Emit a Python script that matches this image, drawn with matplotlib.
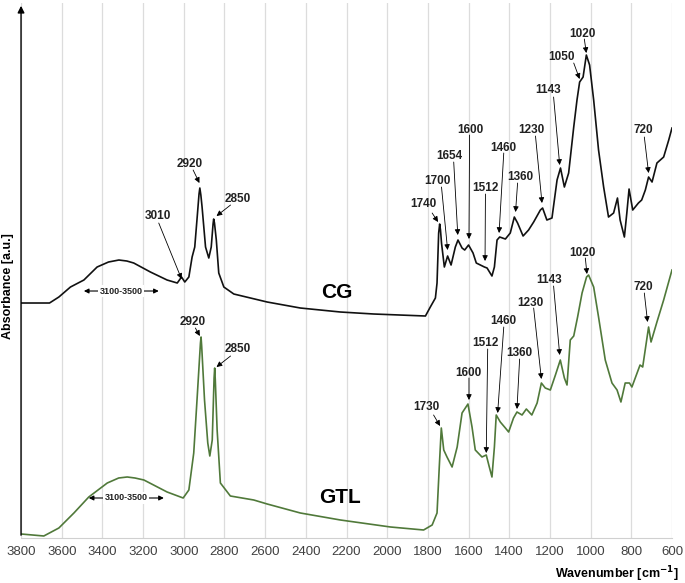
import matplotlib.pyplot as plt
import numpy as np

plt.rcParams['font.family'] = ['Liberation Sans', 'DejaVu Sans']

# FTIR spectra, absorbance in arbitrary units
cg_wn = [3800, 3660, 3614, 3557, 3491, 3426, 3370, 3319, 3280, 3246, 3164, 3082, 3032, 3011,
         2995, 2975, 2959, 2946, 2934, 2925, 2921, 2916, 2910, 2893, 2877, 2865, 2856, 2853,
         2849, 2840, 2828, 2803, 2754, 2590, 2427, 2230, 2066, 1812, 1788, 1763, 1755, 1747,
         1742, 1738, 1733, 1719, 1703, 1686, 1665, 1652, 1632, 1619, 1600, 1578, 1562, 1542,
         1522, 1509, 1485, 1473, 1460, 1447, 1419, 1395, 1375, 1359, 1332, 1305, 1280, 1247,
         1236, 1215, 1190, 1165, 1148, 1129, 1108, 1083, 1067, 1054, 1037, 1021, 1005, 985,
         961, 936, 912, 887, 868, 855, 834, 822, 811, 793, 765, 749, 731, 715, 698, 674,
         641, 616, 600]
cg_abs = [235, 235, 241, 251, 258, 271, 276, 278, 277, 275, 266, 258, 255, 261,
          256, 261, 281, 291, 321, 344, 350, 343, 331, 291, 280, 291, 314, 319,
          315, 298, 265, 251, 244, 236, 230, 226, 224, 222, 231, 240, 255, 305,
          314, 308, 295, 271, 282, 273, 291, 298, 290, 288, 293, 285, 275, 273,
          271, 270, 262, 271, 298, 301, 299, 305, 321, 315, 302, 308, 316, 328,
          330, 318, 320, 358, 370, 351, 365, 411, 438, 456, 461, 483, 473, 438,
          388, 351, 321, 325, 340, 318, 301, 325, 349, 328, 335, 338, 348, 361, 356, 375,
          381, 398, 410]

gtl_wn = [3800, 3688, 3614, 3540, 3467, 3376, 3320, 3278, 3240, 3196, 3082, 3003, 2975, 2951,
          2934, 2918, 2915, 2912, 2898, 2882, 2872, 2860, 2851, 2848, 2845, 2836, 2820, 2771,
          2656, 2590, 2427, 2230, 1984, 1821, 1779, 1755, 1744, 1734, 1722, 1706, 1681, 1656,
          1632, 1603, 1583, 1567, 1534, 1513, 1498, 1485, 1473, 1464, 1444, 1419, 1403, 1379,
          1362, 1337, 1316, 1289, 1263, 1242, 1223, 1198, 1173, 1149, 1129, 1116, 1100, 1083,
          1064, 1042, 1020, 1010, 985, 961, 928, 895, 870, 851, 830, 809, 797, 757, 744,
          715, 703, 674, 641, 600]
gtl_abs = [4, 2, 10, 25, 41, 55, 60, 61, 60, 58, 46, 40, 48, 85,
           141, 195, 201, 192, 138, 95, 82, 98, 160, 170, 158, 108, 55, 42,
           38, 34, 25, 18, 11, 8, 13, 25, 71, 110, 88, 81, 71, 91,
           125, 134, 111, 88, 81, 83, 71, 61, 91, 123, 116, 110, 106, 120,
           126, 123, 129, 123, 135, 155, 150, 148, 163, 178, 160, 153, 198, 202,
           221, 245, 261, 263, 251, 221, 178, 155, 148, 136, 155, 155, 151, 173, 171,
           211, 196, 216, 238, 268]

# peak labels: (text, text x, text y, arrow tail x, tail y, head x, head y)
cg_peaks = [
    ("2920", 2971, 374, 2954, 368, 2923, 355),
    ("2850", 2735, 339, 2770, 333, 2839, 322),
    ("3010", 3128, 322, 3123, 315, 3011, 259),
    ("1020", 1042, 504, 1031, 499, 1021, 485),
    ("1050", 1141, 481, 1083, 475, 1054, 459),
    ("1143", 1211, 448, 1182, 441, 1152, 373),
    ("1230", 1291, 408, 1271, 402, 1239, 335),
    ("1600", 1591, 408, 1595, 403, 1598, 299),
    ("1460", 1427, 390, 1427, 385, 1450, 305),
    ("1654", 1694, 382, 1673, 376, 1653, 303),
    ("1360", 1345, 361, 1359, 355, 1369, 326),
    ("1700", 1755, 357, 1733, 351, 1703, 288),
    ("1512", 1517, 350, 1517, 344, 1519, 277),
    ("1740", 1821, 334, 1779, 325, 1750, 316),
    ("720", 740, 408, 736, 401, 715, 365),
]
gtl_peaks = [
    ("2920", 2954, 216, 2943, 210, 2921, 202),
    ("2850", 2735, 189, 2770, 182, 2839, 171),
    ("1020", 1042, 285, 1026, 280, 1018, 264),
    ("1143", 1204, 258, 1182, 252, 1152, 183),
    ("720", 740, 251, 736, 245, 720, 216),
    ("1230", 1296, 235, 1280, 230, 1242, 159),
    ("1460", 1427, 217, 1427, 211, 1457, 125),
    ("1512", 1517, 195, 1506, 189, 1513, 85),
    ("1360", 1352, 185, 1349, 179, 1362, 129),
    ("1600", 1600, 165, 1598, 160, 1598, 138),
    ("1730", 1805, 131, 1772, 123, 1740, 112),
]
# broad OH band markers: (left x, right x, y)
oh_bands = [(3491, 3123, 247), (3467, 3098, 40)]
ticks = list(range(3800, 599, -200))

fig = plt.figure(figsize=(6.85, 5.83), dpi=100)
ax = fig.add_axes([0.0307, 0.0772, 0.9503, 0.9176])

ax.plot(cg_wn, cg_abs, color='#111111', lw=1.2)
ax.plot(gtl_wn, gtl_abs, color='#50793a', lw=1.2)

ax.set_xlim(3800, 600)
ax.set_ylim(0, 535)
ax.set_xticks(ticks)
ax.tick_params(axis='x', length=0, labelsize=9.5, labelcolor='#404040', pad=6)
ax.set_yticks([])
ax.grid(axis='x', color='#dcdcdc', lw=0.9)
ax.set_axisbelow(True)
for s in ['top', 'right', 'left']:
    ax.spines[s].set_visible(False)
ax.spines['bottom'].set_color('#d0d0d0')

# y axis with arrow on top
ax.annotate('', xy=(0, 1.0), xytext=(0, 0), xycoords='axes fraction',
            arrowprops=dict(arrowstyle='-|>', color='black', lw=1.0, mutation_scale=10))

for peaks in [cg_peaks, gtl_peaks]:
    for lab, tx, ty, ax0, ay0, hx, hy in peaks:
        ax.text(tx, ty, lab, ha='center', va='center', fontsize=8.5,
                fontweight='bold', color='#222222')
        ax.annotate('', xy=(hx, hy), xytext=(ax0, ay0),
                    arrowprops=dict(arrowstyle='-|>', color='black', lw=0.6,
                                    mutation_scale=8, shrinkA=0, shrinkB=0))

for x0, x1, y in oh_bands:
    ax.annotate('', xy=(x0, y), xytext=(x1, y),
                arrowprops=dict(arrowstyle='<|-|>', color='black', lw=0.8,
                                mutation_scale=7, shrinkA=0, shrinkB=0))
    ax.text((x0 + x1) / 2, y, '3100-3500', ha='center', va='center', fontsize=6.5,
            fontweight='bold', color='#222222',
            bbox=dict(facecolor='white', edgecolor='none', pad=1.0))

ax.text(2250, 246, 'CG', ha='center', va='center', fontsize=15, fontweight='bold')
ax.text(2232, 40, 'GTL', ha='center', va='center', fontsize=15, fontweight='bold')

fig.text(0.012, 0.51, 'Absorbance [a.u.]', rotation=90, ha='center', va='center',
         fontsize=9, fontweight='bold')
fig.text(0.99, 0.015, 'Wavenumber [cm$^{\\mathbf{-1}}$]', ha='right', va='center',
         fontsize=9, fontweight='bold')

fig.savefig('out.png', dpi=100)
